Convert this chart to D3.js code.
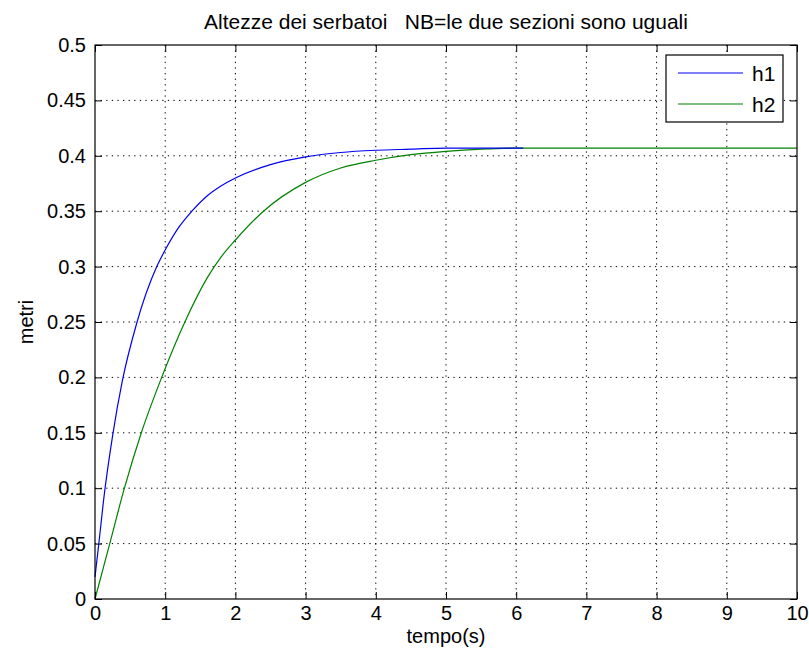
<!DOCTYPE html>
<html>
<head>
<meta charset="utf-8">
<script src="https://cdn.jsdelivr.net/npm/d3@7"></script>
<style>
  html, body { margin: 0; padding: 0; background: #fff; }
  svg { display: block; }
  text { font-family: "Liberation Sans", Arial, sans-serif; fill: #000; white-space: pre; }
</style>
</head>
<body>
<svg id="chart" width="809" height="658"></svg>
<script>
// ---- data ----
const titleText = "Altezze dei serbatoi   NB=le due sezioni sono uguali";
const xLabel = "tempo(s)";
const yLabel = "metri";
const xTicks = [0, 1, 2, 3, 4, 5, 6, 7, 8, 9, 10];
const yTicks = [0, 0.05, 0.1, 0.15, 0.2, 0.25, 0.3, 0.35, 0.4, 0.45, 0.5];
const seriesNames = ["h1", "h2"];

const h1Time  = [0, 0.06, 0.12, 0.25, 0.39, 0.59, 0.88, 1.0, 1.2, 1.38, 1.6, 1.8, 2.0, 2.5, 3.0, 3.5, 4.0, 4.5, 5.0, 5.5, 6.1];
const h1Value = [0.02, 0.053, 0.088, 0.147, 0.197, 0.248, 0.300, 0.315, 0.336, 0.350, 0.364, 0.373, 0.380, 0.392, 0.399, 0.403, 0.405, 0.406, 0.407, 0.407, 0.407];

const h2Time  = [0, 0.21, 0.41, 0.66, 0.95, 1.28, 1.6, 1.8, 2.0, 2.4, 3.0, 3.5, 4.0, 4.5, 5.0, 5.5, 6.0, 7.0, 8.0, 9.0, 10.0];
const h2Value = [0, 0.05, 0.098, 0.150, 0.200, 0.250, 0.290, 0.309, 0.324, 0.350, 0.376, 0.389, 0.396, 0.401, 0.404, 0.406, 0.407, 0.407, 0.407, 0.407, 0.407];

const seriesColors = ["#0000f0", "#008000"];

// ---- layout ----
const svg = d3.select("#chart");
const L = 95, R = 797, T = 45, B = 599;
const x = d3.scaleLinear().domain([0, 10]).range([L, R]);
const y = d3.scaleLinear().domain([0, 0.5]).range([B, T]);
const fs = 21, fsTick = 20;

// grid
const grid = svg.append("g");
grid.selectAll(".gx").data(xTicks.filter(d => d > 0 && d < 10)).join("line")
  .attr("x1", d => x(d)).attr("x2", d => x(d)).attr("y1", T).attr("y2", B)
  .attr("stroke", "#000").attr("stroke-width", 1).attr("stroke-dasharray", "1.3,4.3");
grid.selectAll(".gy").data(yTicks.filter(d => d > 0 && d < 0.5)).join("line")
  .attr("y1", d => y(d)).attr("y2", d => y(d)).attr("x1", L).attr("x2", R)
  .attr("stroke", "#000").attr("stroke-width", 1).attr("stroke-dasharray", "1.3,4.3");

// lines
const lineGen = d3.line().x(d => x(d[0])).y(d => y(d[1])).curve(d3.curveMonotoneX);
const h1 = h1Time.map((t, i) => [t, h1Value[i]]);
const h2 = h2Time.map((t, i) => [t, h2Value[i]]);
svg.append("path").datum(h2).attr("d", lineGen)
  .attr("fill", "none").attr("stroke", seriesColors[1]).attr("stroke-width", 1.2);
svg.append("path").datum(h1).attr("d", lineGen)
  .attr("fill", "none").attr("stroke", seriesColors[0]).attr("stroke-width", 1.2);

// axes (ticks inward, on all four sides)
const tk = 7;
const fmtY = d => d === 0 ? "0" : String(+d.toFixed(2));
const axB = svg.append("g").attr("transform", `translate(0,${B})`)
  .call(d3.axisBottom(x).tickValues(xTicks).tickSize(-tk).tickPadding(7).tickFormat(d3.format("d")));
const axT = svg.append("g").attr("transform", `translate(0,${T})`)
  .call(d3.axisTop(x).tickValues(xTicks).tickSize(-tk).tickFormat(""));
const axL = svg.append("g").attr("transform", `translate(${L},0)`)
  .call(d3.axisLeft(y).tickValues(yTicks).tickSize(-tk).tickPadding(9).tickFormat(fmtY));
const axRt = svg.append("g").attr("transform", `translate(${R},0)`)
  .call(d3.axisRight(y).tickValues(yTicks).tickSize(-tk).tickFormat(""));
[axB, axT, axL, axRt].forEach(g => {
  g.select(".domain").remove();
  g.selectAll("line").attr("stroke", "#000").attr("stroke-width", 1);
  g.selectAll("text").attr("font-size", fsTick).attr("font-family", "'Liberation Sans', Arial, sans-serif").attr("fill", "#000");
});
svg.append("rect").attr("x", L).attr("y", T).attr("width", R - L).attr("height", B - T)
  .attr("fill", "none").attr("stroke", "#000").attr("stroke-width", 1.2);

// labels
svg.append("text").attr("x", (L + R) / 2).attr("y", 29).attr("text-anchor", "middle")
  .attr("font-size", fs).text(titleText);
svg.append("text").attr("x", (L + R) / 2).attr("y", 643).attr("text-anchor", "middle")
  .attr("font-size", fsTick).text(xLabel);
svg.append("text").attr("transform", `translate(33,${(T + B) / 2}) rotate(-90)`)
  .attr("text-anchor", "middle").attr("font-size", fsTick).text(yLabel);

// legend
const lg = svg.append("g");
lg.append("rect").attr("x", 666).attr("y", 55).attr("width", 117).attr("height", 67)
  .attr("fill", "#fff").attr("stroke", "#000").attr("stroke-width", 1.2);
seriesNames.forEach((name, i) => {
  const yy = 73 + i * 31;
  lg.append("line").attr("x1", 678).attr("x2", 743).attr("y1", yy).attr("y2", yy)
    .attr("stroke", seriesColors[i]).attr("stroke-width", 1.2);
  lg.append("text").attr("x", 752).attr("y", yy + 8).attr("font-size", fs).text(name);
});
</script>
</body>
</html>
